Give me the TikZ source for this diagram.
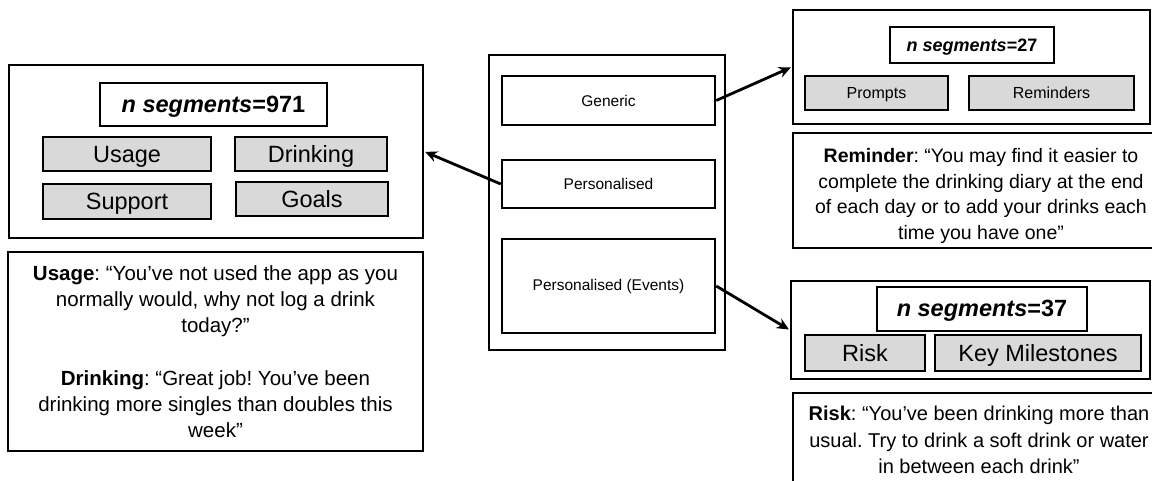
\documentclass[tikz,border=0pt]{standalone}
\usepackage{fontspec}
\setmainfont{Liberation Sans}
\usetikzlibrary{arrows.meta}
\frenchspacing
\newcommand{\fsz}[2]{\fontsize{#1}{#2}\selectfont}
\tikzset{
>={Stealth[length=12pt,width=11pt]},
frame/.style={%
    rectangle,
    draw=black,
    line width=2.5pt,
    inner sep=0pt,
},
sized/.style 2 args={minimum width=#1, minimum height=#2},
% labels with a fixed baseline
bigtext/.style={font=\fsz{23.5}{26}, text height=20pt, text depth=4pt},
smalltext/.style={font=\fsz{16}{18}, text height=13.5pt, text depth=3pt},
midtext/.style={font=\fsz{15.5}{18}},
tag/.style={frame, fill=black!15},
quote/.style={frame, align=center},
count/.style={frame, font=\fsz{#1}{#1}\bfseries, text height=0.82*#1pt, text depth=0.15*#1pt},
link/.style={->, line width=2.8pt, shorten >=1pt},
}

\begin{document}
\begin{tikzpicture}[x=1pt, y=-1pt]
\useasboundingbox (0,0) rectangle (1152,480);

% middle column
\node[frame, sized={236pt}{295pt}] (mid) at (607,202.5) {};
\node[frame, sized={213pt}{49pt}, midtext] (generic) at (608.5,100.5) {Generic};
\node[frame, sized={213pt}{48pt}, midtext] (pers) at (608.5,184) {Personalised};
\node[frame, sized={213pt}{94pt}, midtext] (events) at (608.5,286) {Personalised (Events)};

% personalised
\node[frame, sized={414pt}{173pt}] (persbox) at (216,151.5) {};
\node[count=23.5, sized={227pt}{43pt}] (persn) at (213.5,104.5) {\textit{n segments}=971};
\node[tag, bigtext, sized={168pt}{34pt}] (usage) at (127,154) {Usage};
\node[tag, bigtext, sized={152pt}{34pt}] (drinking) at (311,154) {Drinking};
\node[tag, bigtext, sized={168pt}{35pt}] (support) at (127,201.5) {Support};
\node[tag, bigtext, sized={152pt}{34pt}] (goals) at (312,199) {Goals};
\node[quote, sized={415pt}{199pt}, font=\fsz{20.5}{26.2}] (persq) at (215.5,351.5)
  {\textbf{Usage}: “You’ve not used the app as you\\
   normally would, why not log a drink\\
   today?”\\[26.2pt]
   \textbf{Drinking}: “Great job! You’ve been\\
   drinking more singles than doubles this\\
   week”};

% generic
\node[frame, sized={357pt}{114pt}] (genbox) at (971.5,67) {};
\node[count=18, sized={164pt}{36pt}] (genn) at (972,45) {\textit{n segments}=27};
\node[tag, smalltext, sized={143pt}{34pt}] (prompts) at (876.5,93) {Prompts};
\node[tag, smalltext, sized={165pt}{34pt}] (reminders) at (1051.5,93) {Reminders};
\node[quote, sized={376pt}{115pt}, font=\fsz{19.5}{25.7}] (genq) at (981,190.5)
  {\rule{0pt}{25pt}\textbf{Reminder}: “You may find it easier to\\
   complete the drinking diary at the end\\
   of each day or to add your drinks each\\
   time you have one”};

% events
\node[frame, sized={359pt}{98pt}] (evbox) at (970.5,330) {};
\node[count=23.5, sized={210pt}{44pt}, fill=white] (evn) at (982,309) {\textit{n segments}=37};
\node[tag, bigtext, sized={120pt}{36pt}] (risk) at (865,353) {Risk};
\node[tag, bigtext, sized={206pt}{36pt}] (milestones) at (1038,353) {Key Milestones};
\node[quote, sized={372pt}{94pt}, font=\fsz{20}{26.5}] (evq) at (979,440)
  {\textbf{Risk}: “You’ve been drinking more than\\
   usual. Try to drink a soft drink or water\\
   in between each drink”};

% links
\draw[link] (pers.west) -- (persbox.east);
\draw[link] (generic.east) -- (genbox.west);
\draw[link] (events.east) -- (evbox.west);

\end{tikzpicture}
\end{document}
